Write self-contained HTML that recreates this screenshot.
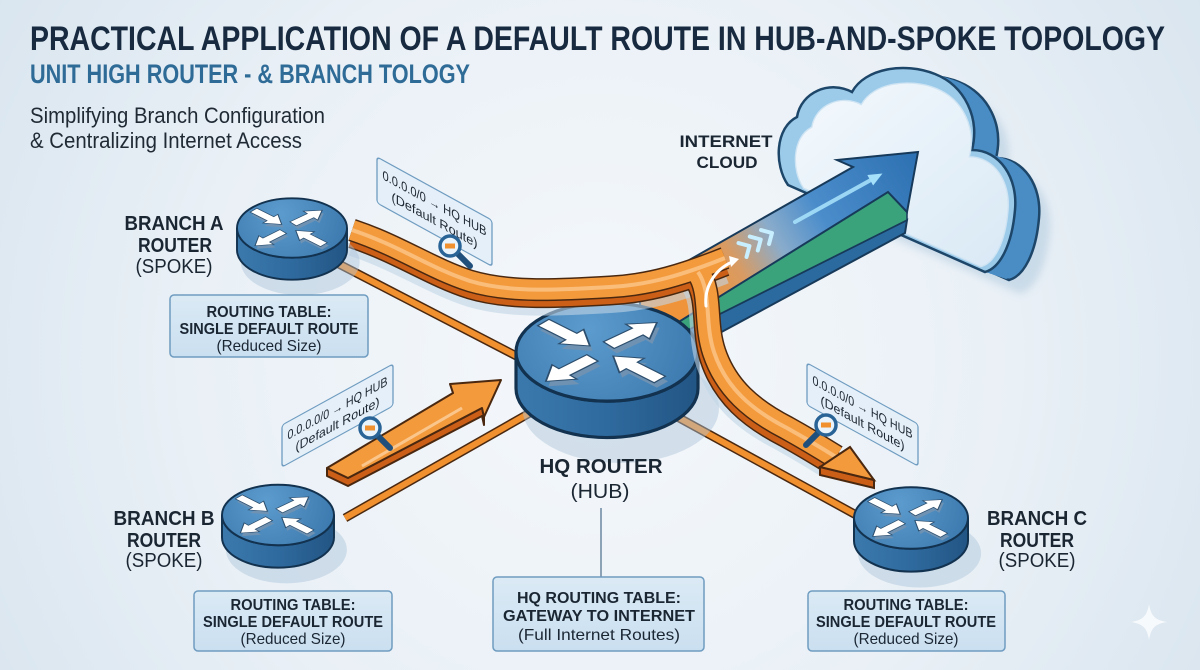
<!DOCTYPE html>
<html><head><meta charset="utf-8"><style>
html,body{margin:0;padding:0;width:1200px;height:670px;overflow:hidden;background:#e8f0f6}
svg{display:block}
text{font-family:"Liberation Sans",Arial,sans-serif}
</style></head><body>
<svg width="1200" height="670" viewBox="0 0 1200 670" xmlns="http://www.w3.org/2000/svg">
<defs>
 <radialGradient id="bg" cx="600" cy="360" r="760" gradientUnits="userSpaceOnUse">
  <stop offset="0" stop-color="#f5f8fb"/>
  <stop offset="0.55" stop-color="#e9f0f6"/>
  <stop offset="1" stop-color="#d6e3ee"/>
 </radialGradient>
 <linearGradient id="rside" x1="-1" y1="0" x2="1" y2="0" gradientUnits="userSpaceOnUse">
  <stop offset="0" stop-color="#3b79ad"/>
  <stop offset="0.5" stop-color="#2f6a9e"/>
  <stop offset="1" stop-color="#225584"/>
 </linearGradient>
 <radialGradient id="rtop" cx="-0.2" cy="-0.25" r="1.3" gradientUnits="userSpaceOnUse">
  <stop offset="0" stop-color="#5c9bcd"/>
  <stop offset="1" stop-color="#3b78ad"/>
 </radialGradient>
 <linearGradient id="bartop" x1="690" y1="285" x2="910" y2="155" gradientUnits="userSpaceOnUse">
  <stop offset="0" stop-color="#ef943a"/>
  <stop offset="0.2" stop-color="#d89b63"/>
  <stop offset="0.38" stop-color="#8aaccb"/>
  <stop offset="0.58" stop-color="#4b8dcb"/>
  <stop offset="1" stop-color="#2f72b3"/>
 </linearGradient>
 <linearGradient id="cloudin" x1="0" y1="0" x2="1" y2="1">
  <stop offset="0" stop-color="#f4f9fd"/>
  <stop offset="1" stop-color="#d9e9f5"/>
 </linearGradient>
 <linearGradient id="boxg" x1="0" y1="0" x2="0" y2="1">
  <stop offset="0" stop-color="#dbeaf5"/>
  <stop offset="1" stop-color="#cadff0"/>
 </linearGradient>
 <filter id="blur" x="-20%" y="-20%" width="140%" height="140%"><feGaussianBlur stdDeviation="4"/></filter>
 <g id="arr"><polygon points="0,-0.09 0.42,-0.09 0.42,-0.2 0.7,0 0.42,0.2 0.42,0.09 0,0.09"/></g>
 <g id="arrows">
   <use href="#arr" transform="translate(-0.7,-0.6) rotate(43)"/>
   <use href="#arr" transform="translate(0.02,-0.14) rotate(-41)"/>
   <use href="#arr" transform="translate(-0.16,0.12) rotate(137)"/>
   <use href="#arr" transform="translate(0.58,0.56) rotate(-137)"/>
 </g>
 <g id="router">
   <ellipse cx="0.15" cy="0.62" rx="1.08" ry="0.6" fill="#aac4da" opacity="0.45"/>
   <path d="M-1,0 L-1,0.4 A1,0.54 0 0 0 1,0.4 L1,0 A1,0.54 0 0 1 -1,0 Z" fill="url(#rside)" stroke="#12324f" stroke-width="0.035"/>
   <ellipse cx="0" cy="0" rx="1" ry="0.54" fill="url(#rtop)" stroke="#12324f" stroke-width="0.035"/>
   <g transform="scale(1,0.54)">
     <use href="#arrows" transform="translate(0.03,0.1)" fill="#6f92b3"/>
     <use href="#arrows" fill="#ffffff" stroke="#2c4d6c" stroke-width="0.02"/>
   </g>
 </g>
 <path id="cloud" d="M788,185 C774,165 775,128 797,117 C801,92 830,80 852,92 C865,68 905,62 935,74 C965,86 980,118 972,150 C1000,150 1018,178 1015,210 C1012,245 1000,268 985,272 Z"/>
 <path id="ribA" d="M352,230 C400,246 430,268 470,281 C510,293 560,290 610,287 C650,285 685,274 725,258"/>
 <path id="ribD" d="M698,272 C712,292 704,322 714,352 C726,388 752,410 787,428 C805,438 820,447 836,457"/>
 <g id="mag">
   <line x1="0" y1="0" x2="20" y2="20" stroke="#1f4f7a" stroke-width="6" stroke-linecap="round"/>
   <circle r="10" fill="#e8f3fb" stroke="#2a6497" stroke-width="3.5"/>
   <rect x="-5" y="-2.5" width="10" height="5" fill="#f0902f"/>
 </g>
</defs>

<rect width="1200" height="670" fill="url(#bg)"/>

<!-- titles -->
<text x="30" y="50" font-size="34" font-weight="bold" fill="#172a40" textLength="1135" lengthAdjust="spacingAndGlyphs">PRACTICAL APPLICATION OF A DEFAULT ROUTE IN HUB-AND-SPOKE TOPOLOGY</text>
<text x="30" y="83" font-size="27" font-weight="bold" fill="#2f6b97" textLength="440" lengthAdjust="spacingAndGlyphs">UNIT HIGH ROUTER - &amp; BRANCH TOLOGY</text>
<text x="30" y="123" font-size="22" fill="#1f2a35" textLength="295" lengthAdjust="spacingAndGlyphs">Simplifying Branch Configuration</text>
<text x="30" y="148" font-size="22" fill="#1f2a35" textLength="272" lengthAdjust="spacingAndGlyphs">&amp; Centralizing Internet Access</text>

<!-- thin connectors -->
<g stroke-linecap="butt">
 <line x1="335" y1="262" x2="528" y2="362" stroke="#4a2810" stroke-width="9"/>
 <line x1="335" y1="262" x2="528" y2="362" stroke="#f0902f" stroke-width="6"/>
 <line x1="345" y1="518" x2="535" y2="410" stroke="#4a2810" stroke-width="9"/>
 <line x1="345" y1="518" x2="535" y2="410" stroke="#f0902f" stroke-width="6"/>
 <line x1="672" y1="414" x2="858" y2="516" stroke="#4a2810" stroke-width="9"/>
 <line x1="672" y1="414" x2="858" y2="516" stroke="#f0902f" stroke-width="6"/>
</g>

<!-- cloud -->
<use href="#cloud" transform="translate(35,22)" fill="#b6cde0" opacity="0.6" filter="url(#blur)"/>
<use href="#cloud" transform="translate(24,8)" fill="#4a8dc5" stroke="#1d4669" stroke-width="2.5"/>
<use href="#cloud" transform="translate(21,7)" fill="#4a8dc5"/>
<use href="#cloud" transform="translate(18,6)" fill="#4a8dc5"/>
<use href="#cloud" transform="translate(15,5)" fill="#4a8dc5"/>
<use href="#cloud" transform="translate(12,4)" fill="#4a8dc5"/>
<use href="#cloud" transform="translate(9,3)" fill="#4a8dc5"/>
<use href="#cloud" transform="translate(6,2)" fill="#4a8dc5"/>
<use href="#cloud" transform="translate(3,1)" fill="#4a8dc5"/>
<use href="#cloud" fill="#9ccbea" stroke="#1d4669" stroke-width="2.5"/>
<use href="#cloud" transform="translate(909,182) scale(0.9) translate(-905,-178)" fill="url(#cloudin)" stroke="#cfe4f3" stroke-width="1.5"/>

<text x="726" y="147" font-size="17" font-weight="bold" fill="#1b2633" text-anchor="middle" textLength="93" lengthAdjust="spacingAndGlyphs">INTERNET</text>
<text x="727" y="168" font-size="17" font-weight="bold" fill="#1b2633" text-anchor="middle" textLength="61" lengthAdjust="spacingAndGlyphs">CLOUD</text>

<!-- blue bar -->
<polygon points="640,354 907,220 905,233 640,376" fill="#2b6a9f" stroke="#173a5a" stroke-width="2"/>
<polygon points="640,346 888,192 907,212 907,220 640,354" fill="#3aa37c" stroke="#173a5a" stroke-width="1.5"/>
<polygon points="640,288 853,167 837,160 918,152 907,212 888,192 640,346" fill="url(#bartop)" stroke="#173a5a" stroke-width="2"/>
<g transform="translate(746,248) rotate(-30)" fill="none" stroke="#c8efff" stroke-width="4" stroke-linecap="round" stroke-linejoin="round">
 <polyline points="-4,-8 4,0 -4,8"/>
 <polyline points="9,-8 17,0 9,8"/>
 <polyline points="22,-8 30,0 22,8"/>
</g>
<g transform="translate(795,222) rotate(-29)">
 <line x1="0" y1="0" x2="88" y2="0" stroke="#a5e0fa" stroke-width="4" stroke-linecap="round" opacity="0.9"/>
 <polygon points="86,-6 100,0 86,6" fill="#a5e0fa"/>
</g>

<!-- HQ router -->
<use href="#router" transform="translate(607,352) scale(91)"/>

<!-- orange ribbon -->
<g fill="none" stroke-linecap="butt">
 <use href="#ribA" transform="translate(0,16)" stroke="#c2d6e6" stroke-width="20" opacity="0.6"/>
 <use href="#ribD" transform="translate(-8,12)" stroke="#c2d6e6" stroke-width="20" opacity="0.6"/>
 <use href="#ribA" transform="translate(0,7)" stroke="#4a2810" stroke-width="23"/>
 <use href="#ribD" transform="translate(-2,7)" stroke="#4a2810" stroke-width="25"/>
 <use href="#ribA" transform="translate(0,7)" stroke="#cc5f17" stroke-width="20"/>
 <use href="#ribD" transform="translate(-2,7)" stroke="#cc5f17" stroke-width="22"/>
 <use href="#ribA" stroke="#4a2810" stroke-width="23"/>
 <use href="#ribD" stroke="#4a2810" stroke-width="25"/>
 <use href="#ribA" stroke="#f39a3d" stroke-width="20"/>
 <use href="#ribD" stroke="#f39a3d" stroke-width="22"/>
 <use href="#ribA" stroke="#fbc58a" stroke-width="4" opacity="0.8"/>
 <use href="#ribD" stroke="#fbc58a" stroke-width="4" opacity="0.8"/>
</g>
<path d="M706,306 C704,288 714,270 732,262" fill="none" stroke="#ffffff" stroke-width="3" stroke-linecap="round"/>
<polygon points="729,256 739,259 731,267" fill="#ffffff"/>
<polygon points="820,467 874,480 874,488 820,475" fill="#cc5f17" stroke="#4a2810" stroke-width="2"/>
<polygon points="820,467 850,447 874,480" fill="#f39a3d" stroke="#4a2810" stroke-width="2"/>

<!-- branch routers -->
<use href="#router" transform="translate(292,228) scale(55)"/>
<use href="#router" transform="translate(278,515) scale(56)"/>
<use href="#router" transform="translate(911,518) scale(57)"/>

<!-- orange arrow B -->
<polygon points="327,468 348,478 482,408 484,417 484,425 482,416 348,486 327,476" fill="#cc5f17" stroke="#4a2810" stroke-width="2" stroke-linejoin="round"/>
<polygon points="327,468 453,393 450,384 501,380 484,417 482,408 348,478" fill="#f39a3d" stroke="#4a2810" stroke-width="2" stroke-linejoin="round"/>
<line x1="362" y1="466" x2="462" y2="408" stroke="#fcd2a0" stroke-width="3" opacity="0.8"/>

<!-- default route tags -->
<g transform="translate(377,157) skewY(28.8)">
 <rect x="0" y="0" width="115" height="46" rx="3" fill="#e2eef8" fill-opacity="0.88" stroke="#6f9cc0" stroke-width="1.3"/>
 <text x="57.5" y="19" font-size="13" fill="#1b2632" text-anchor="middle" textLength="104" lengthAdjust="spacingAndGlyphs">0.0.0.0/0 → HQ HUB</text>
 <text x="57.5" y="36" font-size="13" fill="#1b2632" text-anchor="middle" textLength="86" lengthAdjust="spacingAndGlyphs">(Default Route)</text>
</g>
<g transform="translate(282,425) skewY(-28.8)">
 <rect x="0" y="0" width="111" height="42" rx="3" fill="#e2eef8" fill-opacity="0.88" stroke="#6f9cc0" stroke-width="1.3"/>
 <text x="55.5" y="18" font-size="13" fill="#1b2632" text-anchor="middle" textLength="100" lengthAdjust="spacingAndGlyphs">0.0.0.0/0 → HQ HUB</text>
 <text x="55.5" y="34" font-size="13" fill="#1b2632" text-anchor="middle" textLength="84" lengthAdjust="spacingAndGlyphs">(Default Route)</text>
</g>
<g transform="translate(807,363) skewY(28.8)">
 <rect x="0" y="0" width="111" height="42" rx="3" fill="#e2eef8" fill-opacity="0.88" stroke="#6f9cc0" stroke-width="1.3"/>
 <text x="55.5" y="18" font-size="13" fill="#1b2632" text-anchor="middle" textLength="100" lengthAdjust="spacingAndGlyphs">0.0.0.0/0 → HQ HUB</text>
 <text x="55.5" y="34" font-size="13" fill="#1b2632" text-anchor="middle" textLength="84" lengthAdjust="spacingAndGlyphs">(Default Route)</text>
</g>

<!-- magnifiers -->
<use href="#mag" transform="translate(450,246)"/>
<use href="#mag" transform="translate(370,428)"/>
<use href="#mag" transform="translate(826,425) scale(-1,1)"/>

<!-- node labels -->
<g fill="#1b2633" text-anchor="middle" font-size="20">
 <text x="174" y="230" font-weight="bold" textLength="99" lengthAdjust="spacingAndGlyphs">BRANCH A</text>
 <text x="175" y="252" font-weight="bold" textLength="74" lengthAdjust="spacingAndGlyphs">ROUTER</text>
 <text x="174" y="273" textLength="77" lengthAdjust="spacingAndGlyphs">(SPOKE)</text>

 <text x="164" y="525" font-weight="bold" textLength="101" lengthAdjust="spacingAndGlyphs">BRANCH B</text>
 <text x="164" y="547" font-weight="bold" textLength="74" lengthAdjust="spacingAndGlyphs">ROUTER</text>
 <text x="164" y="567" textLength="77" lengthAdjust="spacingAndGlyphs">(SPOKE)</text>

 <text x="1037" y="525" font-weight="bold" textLength="100" lengthAdjust="spacingAndGlyphs">BRANCH C</text>
 <text x="1037" y="547" font-weight="bold" textLength="74" lengthAdjust="spacingAndGlyphs">ROUTER</text>
 <text x="1037" y="567" textLength="77" lengthAdjust="spacingAndGlyphs">(SPOKE)</text>

 <text x="601" y="473" font-weight="bold" textLength="123" lengthAdjust="spacingAndGlyphs">HQ ROUTER</text>
 <text x="600" y="498" textLength="59" lengthAdjust="spacingAndGlyphs">(HUB)</text>
</g>

<line x1="601" y1="508" x2="601" y2="577" stroke="#4a6a88" stroke-width="1.2"/>

<!-- routing tables -->
<g stroke="#6f9cc0" stroke-width="1.5" fill="url(#boxg)">
 <rect x="170" y="295" width="198" height="62" rx="4"/>
 <rect x="194" y="591" width="198" height="60" rx="4"/>
 <rect x="808" y="591" width="197" height="60" rx="4"/>
 <rect x="493" y="577" width="211" height="74" rx="4"/>
</g>
<g fill="#1b2633" text-anchor="middle" font-size="16">
 <text x="269" y="317" font-weight="bold" textLength="125" lengthAdjust="spacingAndGlyphs">ROUTING TABLE:</text>
 <text x="269" y="334" font-weight="bold" textLength="179" lengthAdjust="spacingAndGlyphs">SINGLE DEFAULT ROUTE</text>
 <text x="269" y="351" textLength="105" lengthAdjust="spacingAndGlyphs">(Reduced Size)</text>

 <text x="293" y="610" font-weight="bold" textLength="125" lengthAdjust="spacingAndGlyphs">ROUTING TABLE:</text>
 <text x="293" y="627" font-weight="bold" textLength="180" lengthAdjust="spacingAndGlyphs">SINGLE DEFAULT ROUTE</text>
 <text x="293" y="644" textLength="105" lengthAdjust="spacingAndGlyphs">(Reduced Size)</text>

 <text x="906" y="610" font-weight="bold" textLength="125" lengthAdjust="spacingAndGlyphs">ROUTING TABLE:</text>
 <text x="906" y="627" font-weight="bold" textLength="180" lengthAdjust="spacingAndGlyphs">SINGLE DEFAULT ROUTE</text>
 <text x="906" y="644" textLength="105" lengthAdjust="spacingAndGlyphs">(Reduced Size)</text>

 <text x="599" y="603" font-weight="bold" textLength="164" lengthAdjust="spacingAndGlyphs">HQ ROUTING TABLE:</text>
 <text x="599" y="621" font-weight="bold" textLength="192" lengthAdjust="spacingAndGlyphs">GATEWAY TO INTERNET</text>
 <text x="599" y="640" textLength="162" lengthAdjust="spacingAndGlyphs">(Full Internet Routes)</text>
</g>

<!-- sparkle -->
<path d="M1149,604 C1151,616 1155,620 1167,622 C1155,624 1151,628 1149,640 C1147,628 1143,624 1131,622 C1143,620 1147,616 1149,604 Z" fill="#ffffff" opacity="0.75"/>
</svg>
</body></html>
